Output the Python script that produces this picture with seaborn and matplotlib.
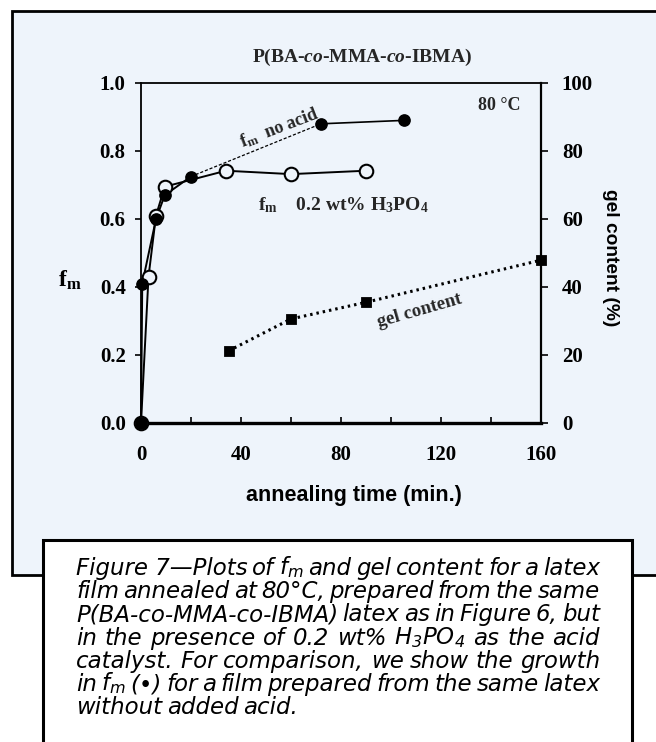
import matplotlib
matplotlib.use("Agg")
import matplotlib.pyplot as plt
from matplotlib.patches import Rectangle
from matplotlib.ticker import FormatStrFormatter
import pandas as pd
import seaborn as sns

# annealing time (min) and f_m for the film without added acid
t_noacid = [0, 0.5, 6, 9.5, 20, 72, 105]
fm_noacid = [0.0, 0.41, 0.60, 0.67, 0.725, 0.88, 0.89]
# film with 0.2 wt% H3PO4
t_acid = [0, 3, 6, 9.5, 34, 60, 90]
fm_acid = [0.0, 0.43, 0.61, 0.695, 0.742, 0.732, 0.742]
# gel content (%) of the acid-catalysed film
t_gel = [0, 35, 60, 90, 160]
gel = [0.0, 21.2, 30.6, 35.5, 47.9]

x_ticks = [0, 40, 80, 120, 160]
x_minor = [20, 60, 100, 140]
fm_ticks = [0.0, 0.2, 0.4, 0.6, 0.8, 1.0]
gel_ticks = [0, 20, 40, 60, 80, 100]

caption_lines = [
    ["Figure 7\u2014Plots", "of", r"f$_\mathregular{m}$", "and", "gel", "content", "for", "a", "latex"],
    ["film", "annealed", "at", "80\u00b0C,", "prepared", "from", "the", "same"],
    ["P(BA-co-MMA-co-IBMA)", "latex", "as", "in", "Figure", "6,", "but"],
    ["in", "the", "presence", "of", "0.2", "wt%", r"H$_\mathregular{3}$PO$_\mathregular{4}$", "as", "the", "acid"],
    ["catalyst.", "For", "comparison,", "we", "show", "the", "growth"],
    ["in", r"f$_\mathregular{m}$", "(\u2022)", "for", "a", "film", "prepared", "from", "the", "same", "latex"],
    ["without", "added", "acid."],
]

W, H = 656, 742
BG = "#EEF4FB"
SERIF = ["Liberation Serif", "DejaVu Serif"]
SANS = ["Liberation Sans", "DejaVu Sans"]
CAP_FONT = ["DejaVu Sans"]

sns.set_theme(style="ticks")
plt.rcParams["font.family"] = SERIF
plt.rcParams["font.weight"] = "bold"
plt.rcParams["mathtext.fontset"] = "custom"
plt.rcParams["mathtext.rm"] = "Liberation Serif:bold"
plt.rcParams["mathtext.it"] = "Liberation Serif:italic:bold"
plt.rcParams["axes.edgecolor"] = "black"


def fx(x):
    return x / W


def fy(y):
    return 1 - y / H


fig = plt.figure(figsize=(W / 100, H / 100), dpi=100, facecolor="white")

# light blue panel behind the chart
fig.add_artist(Rectangle((fx(12), fy(575)), fx(720) - fx(12), fy(11) - fy(575),
                         transform=fig.transFigure, facecolor=BG,
                         edgecolor="black", lw=2.0, zorder=-2))

ax = fig.add_axes([fx(141), fy(423), (541 - 141) / W, (423 - 83) / H])
ax.set_facecolor(BG)
ax2 = ax.twinx()

df_na = pd.DataFrame({"t": t_noacid, "fm": fm_noacid})
df_ac = pd.DataFrame({"t": t_acid, "fm": fm_acid})
df_gel = pd.DataFrame({"t": t_gel, "gel": gel})

# f_m without acid: solid, dashed stretch, solid
sns.lineplot(data=df_na.iloc[:5], x="t", y="fm", ax=ax, color="black", lw=1.4,
             sort=False, clip_on=False)
sns.lineplot(data=df_na.iloc[4:6], x="t", y="fm", ax=ax, color="black", lw=0.9,
             sort=False, linestyle=(0, (2.5, 1.5)))
sns.lineplot(data=df_na.iloc[5:], x="t", y="fm", ax=ax, color="black", lw=1.2,
             sort=False)
# f_m with acid
sns.lineplot(data=df_ac, x="t", y="fm", ax=ax, color="black", lw=1.4,
             sort=False, clip_on=False)
sns.scatterplot(data=df_ac, x="t", y="fm", ax=ax, marker="o", s=95,
                facecolor=BG, edgecolor="black", linewidth=1.5, zorder=5,
                clip_on=False)
sns.scatterplot(data=df_na, x="t", y="fm", ax=ax, marker="o", s=66,
                color="black", edgecolor="black", linewidth=1, zorder=6,
                clip_on=False)

# gel content on the right axis
sns.lineplot(data=df_gel.iloc[1:], x="t", y="gel", ax=ax2, color="black",
             lw=2.2, sort=False, linestyle=(0, (0.8, 1.3)))
sns.scatterplot(data=df_gel, x="t", y="gel", ax=ax2, marker="s", s=55,
                color="black", edgecolor="black", zorder=6, clip_on=False)

ax.set_xlim(0, 160)
ax.set_ylim(0, 1.0)
ax2.set_ylim(0, 100)
ax.set_xticks(x_ticks)
ax.set_xticks(x_minor, minor=True)
ax.set_yticks(fm_ticks)
ax.yaxis.set_major_formatter(FormatStrFormatter("%.1f"))
ax2.set_yticks(gel_ticks)

ax.tick_params(axis="x", which="both", direction="in", length=4, width=1.2,
               pad=16, labelsize=15, colors="black")
ax.tick_params(axis="y", direction="out", length=4, width=1.2, pad=7,
               labelsize=15, colors="black")
ax2.tick_params(axis="y", direction="out", length=5, width=1.2, pad=10,
                labelsize=15, colors="black")
for lbl in ax.get_xticklabels() + ax.get_yticklabels() + ax2.get_yticklabels():
    lbl.set_fontweight("bold")

for name, lw in [("left", 1.3), ("top", 1.3), ("bottom", 2.4)]:
    ax.spines[name].set_linewidth(lw)
    ax.spines[name].set_color("black")
    ax2.spines[name].set_visible(False)
ax.spines["right"].set_visible(False)
ax2.spines["right"].set_linewidth(1.6)
ax2.spines["right"].set_color("black")

ax.set_xlabel("annealing time (min.)", fontfamily=SANS, fontweight="bold",
              fontsize=15.5, color="black")
ax.xaxis.set_label_coords((354 - 141) / 400, (423 - 496) / 340)
ax.xaxis.label.set_va("center")
ax.set_ylabel(r"f$_\mathregular{m}$", rotation=0, fontsize=17,
              fontweight="bold", color="black", ha="center", va="center")
ax.yaxis.set_label_coords((70 - 141) / 400, (423 - 280) / 340)
ax2.set_ylabel("gel content (%)", rotation=-90, fontfamily=SANS,
               fontweight="bold", fontsize=13.8, color="black",
               ha="center", va="center")
ax2.yaxis.set_label_coords((610 - 141) / 400, (423 - 258) / 340)

fig.text(fx(362), fy(57), r"P(BA-$\mathit{co}$-MMA-$\mathit{co}$-IBMA)",
         ha="center", va="center", fontsize=14, fontweight="bold")

ax.text(143.5, 0.935, "80 \u00b0C", ha="center", va="center", fontsize=13)
ax.text(55.5, 0.868, r"f$_\mathregular{m}$  no acid", ha="center", va="center",
        fontsize=13, rotation=21, rotation_mode="anchor")
ax.text(81, 0.641, r"f$_\mathregular{m}$    0.2 wt% H$_\mathregular{3}$PO$_\mathregular{4}$",
        ha="center", va="center", fontsize=14)
ax.text(111.5, 0.33, "gel content", ha="center", va="center", fontsize=13.5,
        rotation=16, rotation_mode="anchor")

# caption box
fig.add_artist(Rectangle((fx(43), fy(760)), fx(632) - fx(43), fy(540) - fy(760),
                         transform=fig.transFigure, facecolor="white",
                         edgecolor="black", lw=2.2, zorder=3))

renderer = fig.canvas.get_renderer()
cap_kw = dict(fontfamily=CAP_FONT, fontstyle="italic", fontweight="normal",
              color="black")


def word_widths(words, fs):
    out = []
    for w in words:
        t = fig.text(0, 0, w, fontsize=fs, **cap_kw)
        out.append(t.get_window_extent(renderer).width)
        t.remove()
    return out


x_left, x_right = 76, 600
target = x_right - x_left
fs0 = 10.0
need = 0
for words in caption_lines[:-1]:
    ws = word_widths(words, fs0)
    gap = 0.10 * fs0 * 100 / 72
    need = max(need, sum(ws) + gap * (len(words) - 1))
fs = min(fs0 * target / need, 16.5)

baselines = [575, 598, 621, 645, 668, 691, 714]
for i, words in enumerate(caption_lines):
    ws = word_widths(words, fs)
    if i < len(caption_lines) - 1:
        gap = (target - sum(ws)) / (len(words) - 1)
    else:
        gap = 0.2 * fs * 100 / 72
    x = x_left
    for w, wd in zip(words, ws):
        fig.text(fx(x), fy(baselines[i]), w, fontsize=fs, ha="left",
                 va="baseline", zorder=4, **cap_kw)
        x += wd + gap

fig.savefig("out.png", dpi=100, facecolor="white")
